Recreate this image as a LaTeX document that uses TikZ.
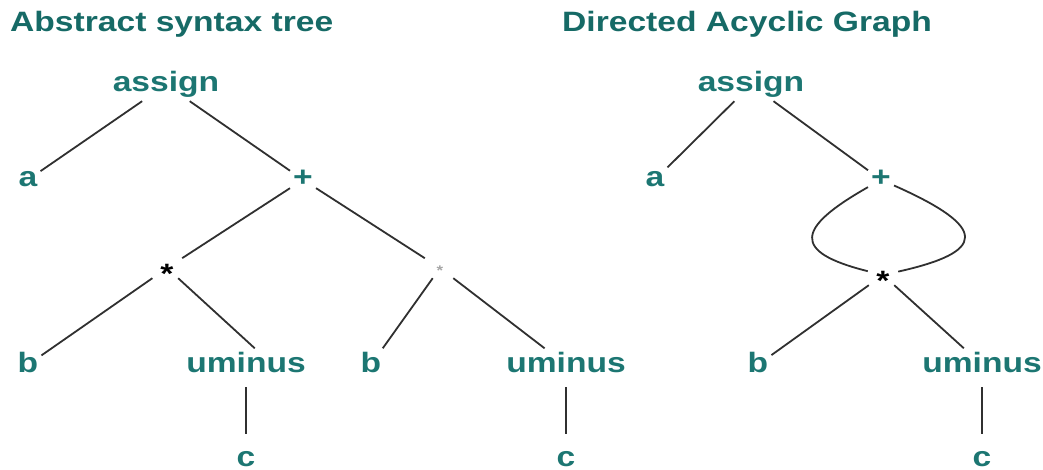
\documentclass[tikz,border=0pt]{standalone}
\usepackage{fontspec}
\usetikzlibrary{positioning}
\newfontfamily\treefont[FakeStretch=1.2]{Liberation Sans}
\definecolor{darkteal}{RGB}{28,118,114}
\definecolor{titleteal}{RGB}{22,106,102}
\definecolor{edgegray}{RGB}{48,48,48}
\newcommand{\starsym}{\smash{\lower15pt\hbox{*}}}

\begin{document}
\begin{tikzpicture}[x=1pt,y=-1pt,
    lbl/.style={text=darkteal,font=\treefont\bfseries\fontsize{28}{30}\selectfont,anchor=base,text height=14.5pt,text depth=0pt,inner xsep=3pt,inner ysep=9pt},
    opstar/.style={text=black,font=\treefont\bfseries\fontsize{28}{30}\selectfont,minimum width=30pt,minimum height=20pt,inner sep=0pt},
    title/.style={text=titleteal,font=\treefont\bfseries\fontsize{28}{30}\selectfont,anchor=base west,inner sep=0pt},
    edge/.style={edgegray,line width=1.8pt},
    stem/.style={edge,shorten <=6pt,shorten >=8pt}]
  \useasboundingbox (0,0) rectangle (1043,470);
  % Titles
  \node[title] (asttitle) at (10,32) {Abstract syntax tree};
  \node[title] (dagtitle) at (562,32) {Directed Acyclic Graph};
  % Abstract syntax tree
  \node[lbl] (asgnL) at (166,92) {assign};
  \node[lbl] (aL) at (28,187) {a};
  \node[lbl] (plusL) at (303,187) {+};
  \node[opstar] (timesL) at (167,268) {\starsym};
  \node[opstar,text=gray!70,font=\treefont\bfseries\fontsize{14}{16}\selectfont] (timesR) at (440,268) {\smash{\lower7pt\hbox{*}}};
  \node[lbl] (bL) at (28,372) {b};
  \node[lbl] (umL) at (246,372) {uminus};
  \node[lbl] (bR) at (371,372) {b};
  \node[lbl] (umR) at (566,372) {uminus};
  \node[lbl] (cL) at (246,466) {c};
  \node[lbl] (cR) at (566,466) {c};
  \draw[edge] (asgnL) -- (aL);
  \draw[edge] (asgnL) -- (plusL);
  \draw[edge] (plusL) -- (timesL);
  \draw[edge] (plusL) -- (timesR);
  \draw[edge] (timesL) -- (bL);
  \draw[edge] (timesL) -- (umL.62);
  \draw[edge] (timesR) -- (bR);
  \draw[edge] (timesR) -- (umR);
  \draw[stem] (umL) -- (cL);
  \draw[stem] (umR) -- (cR);
  % Directed acyclic graph
  \node[lbl] (asgnD) at (751,92) {assign};
  \node[lbl] (aD) at (655,187) {a};
  \node[lbl] (plusD) at (881,187) {+};
  \node[opstar] (timesD) at (883,275) {\starsym};
  \node[lbl] (bD) at (758,372) {b};
  \node[lbl] (umD) at (982,372) {uminus};
  \node[lbl] (cD) at (982,466) {c};
  \draw[edge] (asgnD) -- (aD);
  \draw[edge] (asgnD) -- (plusD);
  % the two edges from + to * bulge out to both sides
  \draw[edge] (plusD) .. controls (796,228) and (791,252) .. (timesD);
  \draw[edge] (plusD) .. controls (990,228) and (986,252) .. (timesD);
  \draw[edge] (timesD) -- (bD);
  \draw[edge] (timesD) -- (umD);
  \draw[stem] (umD) -- (cD);
\end{tikzpicture}
\end{document}
